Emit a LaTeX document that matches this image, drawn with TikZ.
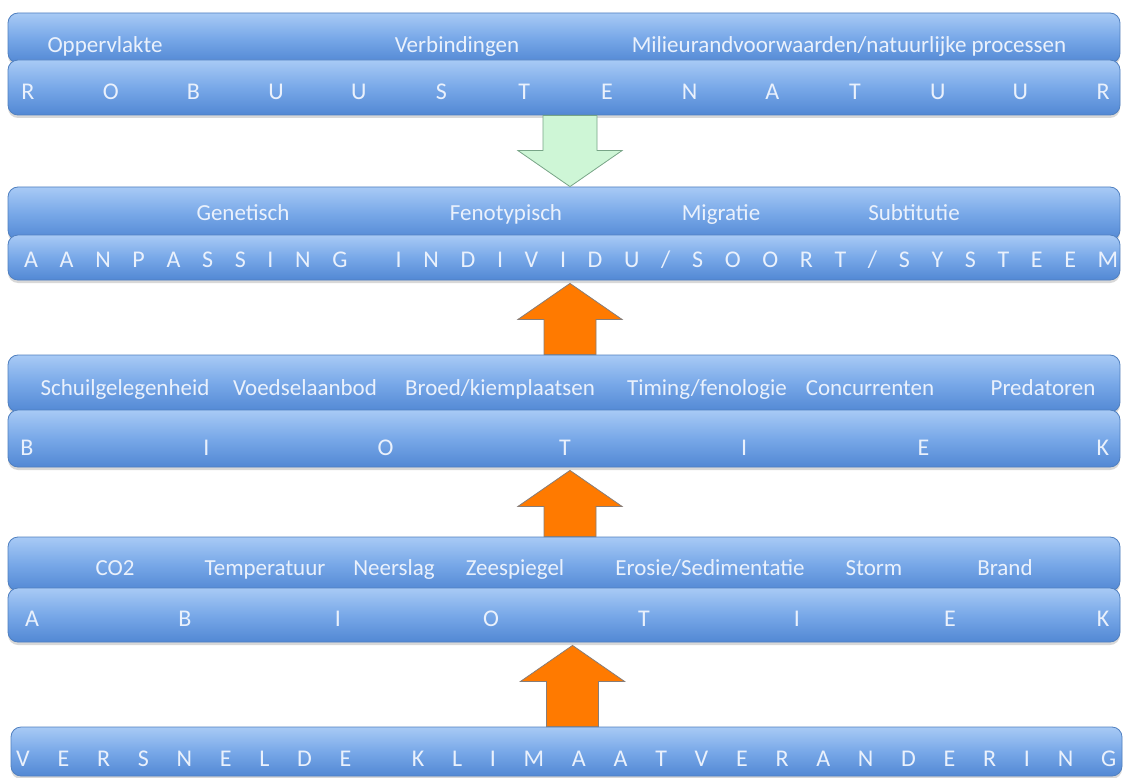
\documentclass[tikz,border=0pt]{standalone}
\usepackage{fontspec}
\setmainfont{Carlito}
\usetikzlibrary{shadows,calc}
\definecolor{boxtop}{RGB}{168,202,245}
\definecolor{boxmid}{RGB}{120,168,232}
\definecolor{boxbot}{RGB}{82,136,212}
\definecolor{boxedge}{RGB}{80,128,192}
\definecolor{txt}{RGB}{234,241,252}
\definecolor{arrowgreen}{RGB}{206,246,214}
\definecolor{greenedge}{RGB}{120,165,135}
\definecolor{arroworange}{RGB}{255,122,0}
\definecolor{orangeedge}{RGB}{135,125,120}
\tikzset{
  bar/.style={draw=boxedge, line width=0.8pt, rounded corners=10pt,
    top color=boxtop, bottom color=boxbot, middle color=boxmid,
    minimum width=1112pt, inner sep=0pt,
    drop shadow={opacity=0.3, shadow xshift=0pt, shadow yshift=-3pt}},
  lbl/.style={text=txt, font=\fontsize{23}{27}\selectfont, inner sep=0pt, anchor=base},
  ltr/.style={text=txt, font=\fontsize{24}{28}\selectfont, inner sep=0pt, anchor=base},
  garrow/.style={fill=arrowgreen, draw=greenedge, line width=0.8pt, line join=miter},
  oarrow/.style={fill=arroworange, draw=orangeedge, line width=0.8pt, line join=miter},
}
\newcommand{\myblockup}[3]{%
  \draw[#1] let \p1=(#2.north), \p2=(#3.south) in
    (\x1+6pt-26pt,\y1) -- (\x1+6pt+26pt,\y1) -- (\x1+6pt+26pt,\y2-39pt)
    -- (\x1+6pt+52pt,\y2-39pt) -- (\x1+6pt,\y2-3pt) -- (\x1+6pt-52pt,\y2-39pt)
    -- (\x1+6pt-26pt,\y2-39pt) -- cycle;}
\newcommand{\myblockdown}[3]{%
  \draw[#1] let \p1=(#2.south), \p2=(#3.north) in
    (\x1+6pt-27pt,\y1) -- (\x1+6pt+27pt,\y1) -- (\x1+6pt+27pt,\y2+36pt)
    -- (\x1+6pt+52pt,\y2+36pt) -- (\x1+6pt,\y2) -- (\x1+6pt-52pt,\y2+36pt)
    -- (\x1+6pt-27pt,\y2+36pt) -- cycle;}
\begin{document}
\begin{tikzpicture}[x=1pt,y=-1pt]
\useasboundingbox (0,0) rectangle (1124,778);
\fill[white] (0,0) rectangle (1124,778);

% ---------- row 1 ----------
\node[bar, minimum height=50pt] (r1u) at (564,38) {};
\node[bar, minimum height=55pt] (r1l) at (564,87.5) {};
\node[lbl] (t11) at (105,52.5) {Oppervlakte};
\node[lbl] (t12) at (457,52.5) {Verbindingen};
\node[lbl] (t13) at (849,52.5) {Milieurandvoorwaarden/natuurlijke processen};
\foreach \c [count=\i from 0] in {R,O,B,U,U,S,T,E,N,A,T,U,U,R}
  \node[ltr] (rb\i) at (28+\i*82.7, 100) {\c};

% ---------- row 2 ----------
\node[bar, minimum height=53pt] (r2u) at (564,213.5) {};
\node[bar, minimum height=45pt] (r2l) at (564,257.5) {};
\node[lbl] (t21) at (243,220.5) {Genetisch};
\node[lbl] (t22) at (506,220.5) {Fenotypisch};
\node[lbl] (t23) at (721,220.5) {Migratie};
\node[lbl] (t24) at (914,220.5) {Subtitutie};
\node[ltr, anchor=base west] (aanp) at (24,267) {\makebox[1094pt][s]{A\hfill A\hfill N\hfill P\hfill A\hfill S\hfill S\hfill I\hfill N\hfill G\hfill\hspace{5pt}\hfill I\hfill N\hfill D\hfill I\hfill V\hfill I\hfill D\hfill U\hfill /\hfill S\hfill O\hfill O\hfill R\hfill T\hfill /\hfill S\hfill Y\hfill S\hfill T\hfill E\hfill E\hfill M}};

% ---------- row 3 ----------
\node[bar, minimum height=57pt] (r3u) at (564,383.5) {};
\node[bar, minimum height=57pt] (r3l) at (564,438.5) {};
\node[lbl] (t31) at (125,395.5) {Schuilgelegenheid};
\node[lbl] (t32) at (305,395.5) {Voedselaanbod};
\node[lbl] (t33) at (500,395.5) {Broed/kiemplaatsen};
\node[lbl] (t34) at (707,395.5) {Timing/fenologie};
\node[lbl] (t35) at (870,395.5) {Concurrenten};
\node[lbl] (t36) at (1043,395.5) {Predatoren};
\foreach \c [count=\i from 0] in {B,I,O,T,I,E,K}
  \node[ltr] (bi\i) at (27+\i*179.3, 455) {\c};

% ---------- row 4 ----------
\node[bar, minimum height=54pt] (r4u) at (564,564) {};
\node[bar, minimum height=54pt] (r4l) at (564,615) {};
\node[lbl] (t41) at (115,575.5) {CO2};
\node[lbl] (t42) at (265,575.5) {Temperatuur};
\node[lbl] (t43) at (394,575.5) {Neerslag};
\node[lbl] (t44) at (515,575.5) {Zeespiegel};
\node[lbl] (t45) at (710,575.5) {Erosie/Sedimentatie};
\node[lbl] (t46) at (874,575.5) {Storm};
\node[lbl] (t47) at (1005,575.5) {Brand};
\foreach \c [count=\i from 0] in {A,B,I,O,T,I,E,K}
  \node[ltr] (ab\i) at (32+\i*153, 626) {\c};

% ---------- row 5 ----------
\node[bar, minimum height=49pt, minimum width=1111pt] (r5) at (566.5,751.5) {};
\node[ltr, anchor=base west] (vers) at (16,766) {\makebox[1100pt][s]{V\hfill E\hfill R\hfill S\hfill N\hfill E\hfill L\hfill D\hfill E\hfill\hspace{5pt}\hfill K\hfill L\hfill I\hfill M\hfill A\hfill A\hfill T\hfill V\hfill E\hfill R\hfill A\hfill N\hfill D\hfill E\hfill R\hfill I\hfill N\hfill G}};

% ---------- arrows ----------
\myblockdown{garrow}{r1l}{r2u}
\myblockup{oarrow}{r3u}{r2l}
\myblockup{oarrow}{r4u}{r3l}
\myblockup{oarrow}{r5}{r4l}
\end{tikzpicture}
\end{document}
